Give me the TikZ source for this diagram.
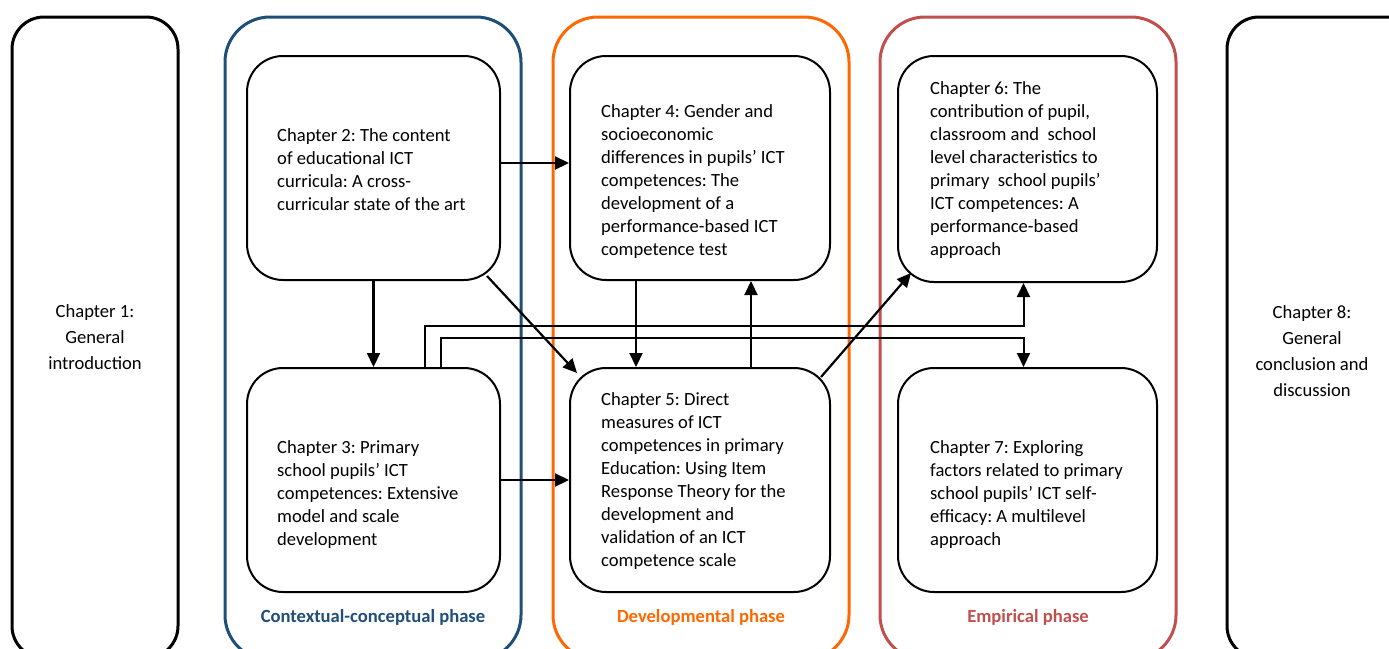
\documentclass[tikz,border=0pt]{standalone}
\usepackage{fontspec}
\setmainfont{Carlito}
\usetikzlibrary{arrows.meta}
\frenchspacing
\definecolor{phaseblue}{RGB}{31,78,121}
\definecolor{phaseorange}{RGB}{255,104,0}
\definecolor{phasered}{RGB}{192,80,77}
\tikzset{
  sidebox/.style={draw, line width=3pt, rounded corners=32pt, inner sep=0pt},
  phasebox/.style={draw, line width=3pt, rounded corners=45pt, inner sep=0pt},
  chapbox/.style={draw, line width=2pt, rounded corners=36pt, inner sep=0pt,
    minimum width=#1, minimum height=224pt},
  % multi-line texts are anchored on the baseline of their last line
  chaptext/.style={align=left, inner sep=0pt, anchor=base west,
    font=\fontsize{18.6}{23}\selectfont},
  sidetext/.style={align=center, inner sep=0pt, anchor=base,
    font=\fontsize{18.6}{26}\selectfont},
  phaselabel/.style={inner sep=0pt, anchor=base,
    font=\bfseries\fontsize{18.6}{22}\selectfont},
  link/.style={line width=2.2pt, -{Triangle[length=14pt,width=13pt]}},
  bus/.style={line width=2pt, -{Triangle[length=14pt,width=13pt]}}
}
\begin{document}
\begin{tikzpicture}[x=1pt,y=-1pt]
\useasboundingbox (0,0) rectangle (1389,648);
\clip (0,0) rectangle (1389,648);

% outer frames: introduction, the three phases, conclusion
\draw[sidebox] (12,17) rectangle (178,658);
\draw[sidebox] (1227,17) rectangle (1420,658);
\draw[phasebox, phaseblue] (225,17) rectangle (521,660);
\draw[phasebox, phaseorange] (553,17) rectangle (849,660);
\draw[phasebox, phasered] (880,17) rectangle (1176,660);

\node[sidetext] (t1) at (95,369) {Chapter 1:\\General\\introduction};
\node[sidetext] (t8) at (1312,396) {Chapter 8:\\General\\conclusion and\\discussion};

\node[phaselabel, phaseblue] (l1) at (373,622) {Contextual-conceptual phase};
\node[phaselabel, phaseorange] (l2) at (701,622) {Developmental phase};
\node[phaselabel, phasered] (l3) at (1028,622) {Empirical phase};

% chapter boxes
\node[chapbox=253pt] (ch2) at (373.5,168) {};
\node[chapbox=253pt] (ch3) at (373.5,480) {};
\node[chapbox=260pt] (ch4) at (700,168) {};
\node[chapbox=260pt] (ch5) at (700,480) {};
\node[chapbox=259pt, minimum height=226pt] (ch6) at (1027.5,169) {};
\node[chapbox=259pt] (ch7) at (1027.5,480) {};

\node[chaptext] (t2) at (277,210) {Chapter 2: The content\\of educational ICT\\curricula: A cross-\\curricular state of the art};
\node[chaptext] (t3) at (277,545) {Chapter 3: Primary\\school pupils’ ICT\\competences: Extensive\\model and scale\\development};
\node[chaptext] (t4) at (601,255) {Chapter 4: Gender and\\socioeconomic\\differences in pupils’ ICT\\competences: The\\development of a\\performance-based ICT\\competence test};
\node[chaptext] (t5) at (601,566) {Chapter 5: Direct\\measures of ICT\\competences in primary\\Education: Using Item\\Response Theory for the\\development and\\validation of an ICT\\competence scale};
\node[chaptext] (t6) at (930,255) {Chapter 6: The\\contribution of pupil,\\classroom and\ \ school\\level characteristics to\\primary\ \ school pupils’\\ICT competences: A\\performance-based\\approach};
\node[chaptext] (t7) at (930,545) {Chapter 7: Exploring\\factors related to primary\\school pupils’ ICT self-\\efficacy: A multilevel\\approach};

% connections between chapters
\draw[link] ([yshift=5pt]ch2.east) -- ([yshift=5pt]ch4.west);
\draw[link] (ch2.south) -- (ch3.north);
\draw[link] ([xshift=-14pt,yshift=5pt]ch2.south east) -- ([xshift=8pt,yshift=-6pt]ch5.north west);
\draw[link] (ch3.east) -- (ch5.west);
\draw[link] ([xshift=-64pt]ch4.south) -- ([xshift=-64pt]ch5.north);
\draw[link] ([xshift=51pt]ch5.north) -- ([xshift=51pt]ch4.south);
\draw[link] ([xshift=-10pt,yshift=-10pt]ch5.north east) -- ([xshift=14pt,yshift=10pt]ch6.south west);
\draw[bus] ([xshift=51.5pt]ch3.north) -- ++(0,-41) -| ([xshift=-4pt]ch6.south);
\draw[bus] ([xshift=67.5pt]ch3.north) -- ++(0,-29) -| ([xshift=-4pt]ch7.north);
\end{tikzpicture}
\end{document}
